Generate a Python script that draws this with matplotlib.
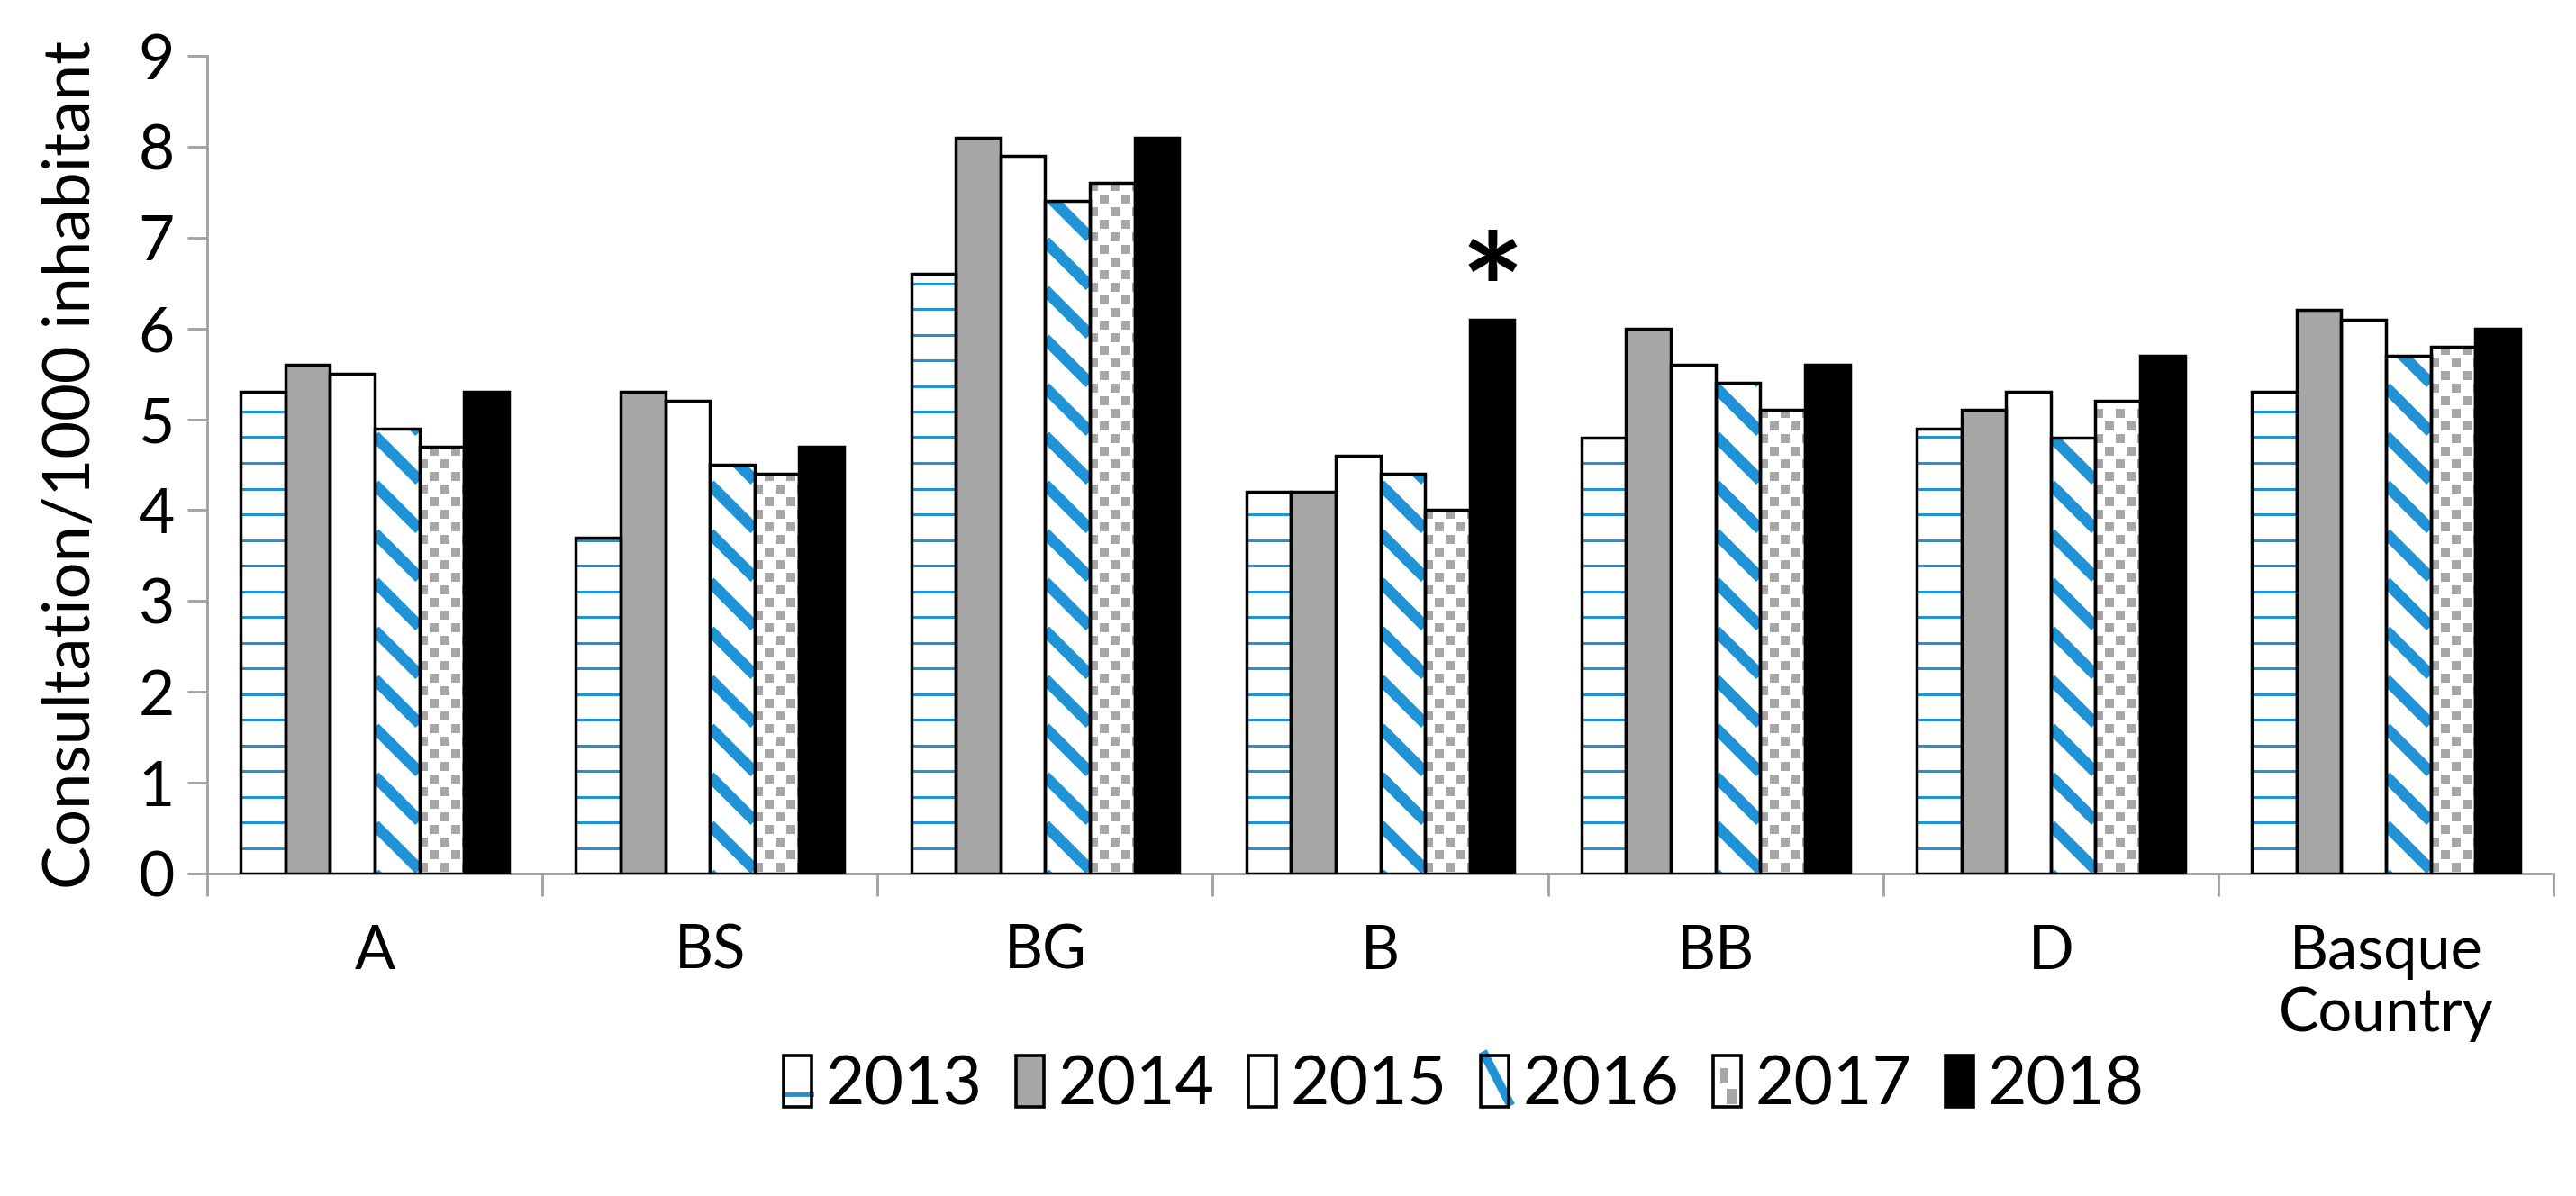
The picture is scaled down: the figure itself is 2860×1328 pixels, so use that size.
import matplotlib.pyplot as plt
import numpy as np
from matplotlib.patches import Rectangle, Patch
from matplotlib.lines import Line2D
from matplotlib.legend_handler import HandlerBase

plt.rcParams['font.family'] = ['Lato', 'DejaVu Sans']

# data
regions = ['A', 'BS', 'BG', 'B', 'BB', 'D', 'Basque\nCountry']
years = ['2013', '2014', '2015', '2016', '2017', '2018']
v2013 = [5.3, 3.7, 6.6, 4.2, 4.8, 4.9, 5.3]
v2014 = [5.6, 5.3, 8.1, 4.2, 6.0, 5.1, 6.2]
v2015 = [5.5, 5.2, 7.9, 4.6, 5.6, 5.3, 6.1]
v2016 = [4.9, 4.5, 7.4, 4.4, 5.4, 4.8, 5.7]
v2017 = [4.7, 4.4, 7.6, 4.0, 5.1, 5.2, 5.8]
v2018 = [5.3, 4.7, 8.1, 6.1, 5.6, 5.7, 6.0]
series = [v2013, v2014, v2015, v2016, v2017, v2018]
star_region = 3  # B, 2018

blue = '#1f93d6'
grey = '#a6a6a6'
axcol = '#a0a0a0'
faces = ['white', grey, 'white', 'white', 'white', 'black']

fig = plt.figure(figsize=(28.6, 13.28), dpi=100)
ax = fig.add_axes([230 / 2860, 1 - 970 / 1328, 2605 / 2860, 908 / 1328])
ax.set_xlim(-0.5, len(regions) - 0.5)
ax.set_ylim(0, 9)

# pixels per data unit, used for the patterns
bb = ax.get_window_extent()
px_x = bb.width / len(regions)
px_y = bb.height / 9.0

x = np.arange(len(regions))
w = 0.8 / len(years)

for i, vals in enumerate(series):
    xs = x + (i - 2.5) * w
    ax.bar(xs, vals, w, color=faces[i], linewidth=0, zorder=1)
    outl = ax.bar(xs, vals, w, fill=False, edgecolor='black', linewidth=2.5, zorder=4)
    for rect in outl.patches:
        x0 = rect.get_x()
        x1 = x0 + rect.get_width()
        h = rect.get_height()
        if i == 0:
            ys = np.arange(0, h, 28.5 / px_y)
            ax.hlines(ys, x0, x1, color=blue, linewidth=2.2, zorder=2)
        elif i == 3:
            k = px_x / px_y
            step = 54 / px_y
            clip = Rectangle((x0, 0), x1 - x0, h, transform=ax.transData)
            for c in np.arange(-step, h + k * (x1 - x0) + step, step):
                ln, = ax.plot([x0, x1], [c, c - k * (x1 - x0)], color=blue,
                              linewidth=9, solid_capstyle='butt', zorder=2)
                ln.set_clip_path(clip)
        elif i == 4:
            clip = Rectangle((x0, 0), x1 - x0, h, transform=ax.transData)
            dy = 14 / px_y
            dx = 24 / px_x
            px, py = [], []
            for r, yy in enumerate(np.arange(dy / 2, h, dy)):
                off = 0 if r % 2 == 0 else dx / 2
                for xx in np.arange(x0 + 4 / px_x + off, x1 + dx, dx):
                    px.append(xx)
                    py.append(yy)
            sc = ax.scatter(px, py, marker='s', s=55, color=grey, linewidths=0, zorder=2)
            sc.set_clip_path(clip)

# asterisk above B 2018
ax.text(x[star_region] + 2.5 * w, v2018[star_region] + 0.2, '*', ha='center', va='center',
        fontsize=120, fontweight='bold')

for s in ['top', 'right']:
    ax.spines[s].set_visible(False)
for s in ['left', 'bottom']:
    ax.spines[s].set_color(axcol)
    ax.spines[s].set_linewidth(2)

ax.set_yticks(range(10))
ax.tick_params(axis='y', length=16, width=2, color=axcol, labelsize=50, pad=10)
ax.set_xticks(x)
ax.set_xticklabels(regions, linespacing=1.15)
ax.set_xticks(np.arange(-0.5, len(regions)), minor=True)
ax.tick_params(axis='x', which='major', length=0, labelsize=48, pad=40)
ax.tick_params(axis='x', which='minor', length=18, width=2, color=axcol)
ax.set_ylabel('Consultation/1000 inhabitant', fontsize=52, labelpad=30)


class PatternHandler(HandlerBase):
    def create_artists(self, legend, orig_handle, xdescent, ydescent, width, height, fontsize, trans):
        idx = years.index(orig_handle.get_label())
        arts = [Rectangle((-xdescent, -ydescent), width, height, facecolor=faces[idx],
                          edgecolor='none', transform=trans)]
        x0, y0 = -xdescent, -ydescent
        if idx == 0:
            arts.append(Line2D([x0, x0 + width], [y0 + 0.25 * height] * 2, color=blue,
                               linewidth=3.5, transform=trans))
        elif idx == 3:
            arts.append(Line2D([x0 + 0.15 * width, x0 + width], [y0 + height, y0 + 0.1 * height],
                               color=blue, linewidth=7, transform=trans))
        elif idx == 4:
            arts.append(Rectangle((x0 + 0.25 * width, y0 + 0.45 * height), 0.3 * width, 0.3 * height,
                                  facecolor=grey, edgecolor='none', transform=trans))
            arts.append(Rectangle((x0 + 0.5 * width, y0 + 0.05 * height), 0.35 * width, 0.3 * height,
                                  facecolor=grey, edgecolor='none', transform=trans))
        arts.append(Rectangle((-xdescent, -ydescent), width, height, fill=False,
                              edgecolor='black', linewidth=2.6, transform=trans))
        return arts


handles = [Patch(label=y) for y in years]
fig.legend(handles=handles, labels=years, loc='center',
           bbox_to_anchor=(1625 / 2860, 1 - 1205 / 1328), ncol=6, frameon=False,
           fontsize=54, handlelength=0.42, handleheight=0.8, handletextpad=0.2,
           columnspacing=0.5, handler_map={Patch: PatternHandler()})

fig.savefig('out.png', dpi=100, facecolor='white')
